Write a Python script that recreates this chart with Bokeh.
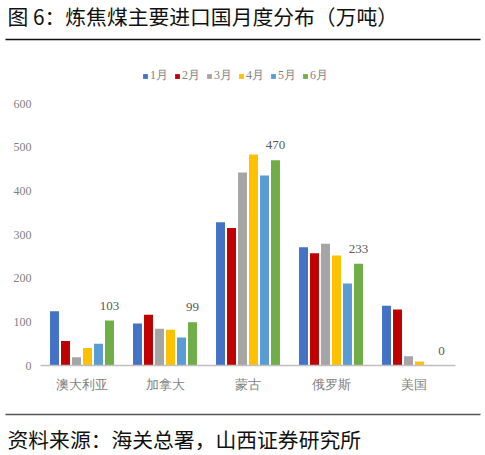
from bokeh.plotting import figure
from bokeh.layouts import column
from bokeh.models import (ColumnDataSource, FactorRange, Range1d, FixedTicker,
                          Legend, LegendItem, Label)
from bokeh.transform import dodge
from bokeh.core.properties import value
from bokeh.embed import file_html
from bokeh.resources import INLINE

countries = ["澳大利亚", "加拿大", "蒙古", "俄罗斯", "美国"]
months = ["1月", "2月", "3月", "4月", "5月", "6月"]
m1 = [124, 96, 328, 271, 137]
m2 = [56, 116, 315, 257, 128]
m3 = [19, 84, 442, 279, 21]
m4 = [40, 82, 483, 252, 9]
m5 = [50, 64, 435, 188, 0]
m6 = [103, 99, 470, 233, 0]
y_ticks = [0, 100, 200, 300, 400, 500, 600]

title_text = "图 6：炼焦煤主要进口国月度分布（万吨）"
source_text = "资料来源：海关总署，山西证券研究所"

colors = ["#4472C4", "#C00000", "#A5A5A5", "#FFC000", "#5B9BD5", "#70AD47"]
serif = "Liberation Serif"
cjk = "Noto Sans CJK SC"
grey = "#7f7f7f"
W = 485


def no_align(fig):
    # keep each band's frame its own width inside the column
    if "frame_align" in fig.properties():
        fig.frame_align = False


def strip(height, text, text_y, rule_y, rule_color):
    # a plain band holding a caption line and a thin rule, pixel-like coords
    s = figure(width=W, height=height, x_range=Range1d(0, W), y_range=Range1d(height, 0),
               x_axis_location=None, y_axis_location=None,
               output_backend="svg", toolbar_location=None, min_border=0)
    s.outline_line_color = None
    s.xgrid.visible = False
    s.ygrid.visible = False
    s.segment(x0=[5], y0=[rule_y], x1=[480], y1=[rule_y], line_color=rule_color, line_width=1.3)
    s.add_layout(Label(x=7, y=text_y, text=text, text_font=cjk, text_font_size="20.8px",
                       text_baseline="middle", text_color="#111111"))
    no_align(s)
    return s


top = strip(47, title_text, 15, 39, "#111111")
bottom = strip(55, source_text, 38, 14, "#555555")

source = ColumnDataSource(dict(
    country=countries,
    m1=m1, m2=m2, m3=m3, m4=m4, m5=m5, m6=m6,
    m6_label=[str(v) for v in m6],
))

p = figure(width=W, height=353,
           x_range=FactorRange(*countries),
           y_range=Range1d(0, 710),
           output_backend="svg", toolbar_location=None,
           min_border_left=40, min_border_right=30,
           min_border_top=8, min_border_bottom=35)
p.outline_line_color = None
p.xgrid.visible = False
p.ygrid.visible = False
no_align(p)

# bars, six months side by side in each country
pitch = 0.1325
renderers = []
for i, key in enumerate(["m1", "m2", "m3", "m4", "m5", "m6"]):
    r = p.vbar(x=dodge("country", (i - 2.5) * pitch, range=p.x_range),
               top=key, width=0.108, source=source,
               fill_color=colors[i], line_color=None)
    renderers.append(r)

# only June carries value labels
p.text(x=dodge("country", 2.5 * pitch, range=p.x_range), y="m6", text="m6_label",
       source=source, text_align="center", text_baseline="middle", y_offset=-15,
       text_font=value(serif), text_font_size="13px", text_color="#595959")

p.xaxis.axis_line_color = "#bfbfbf"
p.xaxis.axis_line_width = 1.5
p.xaxis.major_tick_line_color = None
p.xaxis.minor_tick_line_color = None
p.xaxis.major_label_text_font = serif
p.xaxis.major_label_text_font_size = "13px"
p.xaxis.major_label_text_color = grey
p.xaxis.major_label_standoff = 5

p.yaxis.ticker = FixedTicker(ticks=y_ticks)
p.yaxis.axis_line_color = None
p.yaxis.major_tick_line_color = None
p.yaxis.minor_tick_line_color = None
p.yaxis.major_tick_out = 0
p.yaxis.major_label_text_font = serif
p.yaxis.major_label_text_font_size = "12px"
p.yaxis.major_label_text_color = grey
p.yaxis.major_label_standoff = 9

legend = Legend(items=[LegendItem(label=m, renderers=[r]) for m, r in zip(months, renderers)],
                orientation="horizontal", location=(102, 281),
                glyph_width=6, glyph_height=6, label_height=12, label_standoff=2,
                spacing=4, padding=0, margin=0,
                label_text_font=serif, label_text_font_size="12px",
                label_text_color=grey, border_line_color=None,
                background_fill_alpha=0)
p.add_layout(legend, "center")

page = column(top, p, bottom, spacing=0)

open("out.html", "w").write(file_html(page, INLINE))
